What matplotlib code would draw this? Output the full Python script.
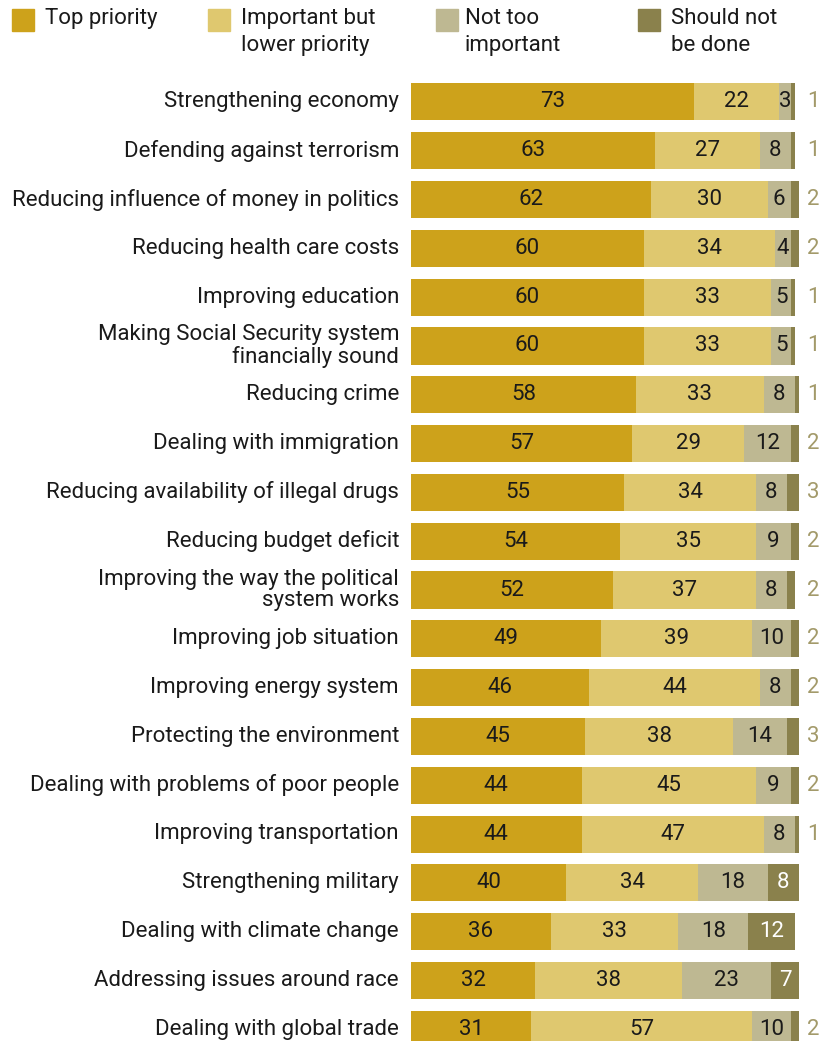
import matplotlib.pyplot as plt
import numpy as np

plt.rcParams['font.family'] = ['Roboto', 'DejaVu Sans']

categories = ["Strengthening economy", "Defending against terrorism",
              "Reducing influence of money in politics", "Reducing health care costs",
              "Improving education", "Making Social Security system\nfinancially sound",
              "Reducing crime", "Dealing with immigration",
              "Reducing availability of illegal drugs", "Reducing budget deficit",
              "Improving the way the political\nsystem works", "Improving job situation",
              "Improving energy system", "Protecting the environment",
              "Dealing with problems of poor people", "Improving transportation",
              "Strengthening military", "Dealing with climate change",
              "Addressing issues around race", "Dealing with global trade"]
top = [73, 63, 62, 60, 60, 60, 58, 57, 55, 54, 52, 49, 46, 45, 44, 44, 40, 36, 32, 31]
important = [22, 27, 30, 34, 33, 33, 33, 29, 34, 35, 37, 39, 44, 38, 45, 47, 34, 33, 38, 57]
not_too = [3, 8, 6, 4, 5, 5, 8, 12, 8, 9, 8, 10, 8, 14, 9, 8, 18, 18, 23, 10]
not_done = [1, 1, 2, 2, 1, 1, 1, 2, 3, 2, 2, 2, 2, 3, 2, 1, 8, 12, 7, 2]

series = [top, important, not_too, not_done]
names = ["Top priority", "Important but\nlower priority", "Not too\nimportant", "Should not\nbe done"]
colors = ["#CDA21B", "#DFC86F", "#BEB892", "#8A814C"]
outside_color = "#A39A6A"

W, H = 825, 1043
top_px = 78
fig = plt.figure(figsize=(W / 100, H / 100), dpi=100)
ax = fig.add_axes([411 / W, 1 - (top_px + 963) / H, (818 - 411) / W, 963 / H])

y = np.arange(len(categories))
left = np.zeros(len(categories))
for k, vals in enumerate(series):
    vals = np.array(vals)
    ax.barh(y, vals, left=left, height=0.76, color=colors[k], linewidth=0)
    for i, v in enumerate(vals):
        if k == 3:
            if v >= 7:
                ax.text(left[i] + v / 2, y[i], str(v), ha='center', va='center',
                        fontsize=16, color='white')
            else:
                ax.text(103.8, y[i], str(v), ha='center', va='center',
                        fontsize=16, color=outside_color)
        else:
            ax.text(left[i] + v / 2, y[i], str(v), ha='center', va='center',
                    fontsize=16, color='#1a1a1a')
    left += vals

ax.set_xlim(0, 105)
ax.set_ylim(19.24, -0.49)
ax.axis('off')

for i, c in enumerate(categories):
    fig.text(399 / W, 1 - (top_px + (i + 0.49) * 48.8) / H, c, ha='right', va='center',
             fontsize=16, color='#1a1a1a', linespacing=1.05)

# legend
sq_x = [12, 208, 436, 638]
tx_x = [45, 241, 465, 671]
for k in range(4):
    fig.patches.append(plt.Rectangle((sq_x[k] / W, 1 - 31 / H), 22 / W, 22 / H,
                                     transform=fig.transFigure, color=colors[k]))
    fig.text(tx_x[k] / W, 1 - 8 / H, names[k], ha='left', va='top',
             fontsize=16, color='#1a1a1a', linespacing=1.4)

plt.savefig("out.png", dpi=100)
